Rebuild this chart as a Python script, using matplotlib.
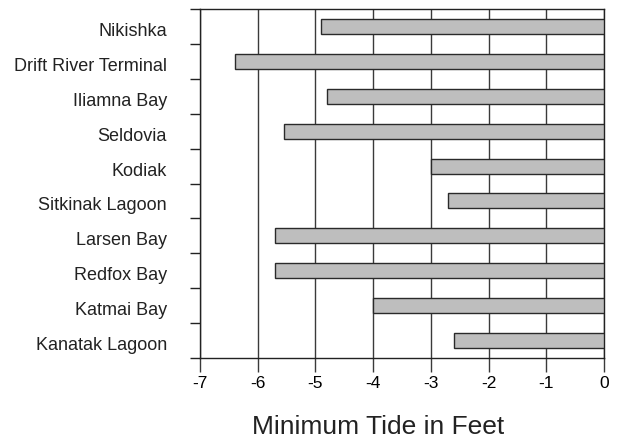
import matplotlib
matplotlib.use("Agg")
import matplotlib.pyplot as plt
import matplotlib.transforms as mtransforms
import numpy as np

plt.rcParams['font.family'] = ['Liberation Sans', 'DejaVu Sans']

# stations from top to bottom
stations = ["Nikishka", "Drift River Terminal", "Iliamna Bay", "Seldovia",
            "Kodiak", "Sitkinak Lagoon", "Larsen Bay", "Redfox Bay",
            "Katmai Bay", "Kanatak Lagoon"]
min_tide = [-4.9, -6.4, -4.8, -5.55, -3.0, -2.7, -5.7, -5.7, -4.0, -2.6]
x_ticks = [-7, -6, -5, -4, -3, -2, -1, 0]


def main():
    fig = plt.figure(figsize=(6.21, 4.38), dpi=100)
    ax = fig.add_axes([0.322, 0.1826, 0.6506, 0.7969])

    pos = np.arange(len(stations))
    ax.barh(pos, min_tide, height=0.43, color="#bebebe",
            edgecolor="#2a2a2a", linewidth=1.0, zorder=3)

    ax.set_xlim(-7, 0)
    ax.set_ylim(len(stations) - 0.5, -0.5)

    # vertical grid lines
    for x in x_ticks:
        ax.axvline(x, color="#3a3a3a", lw=1.0, zorder=1)

    ax.set_xticks(x_ticks)
    ax.set_xticklabels([str(v) for v in x_ticks], fontsize=12.5)
    ax.tick_params(axis="x", direction="out", length=10, width=1,
                   color="#3a3a3a", pad=3)

    # ticks on category boundaries, labels on the centres
    ax.set_yticks(np.arange(-0.5, len(stations), 1.0))
    ax.set_yticklabels([])
    ax.tick_params(axis="y", which="major", direction="out", length=7.2,
                   width=1, color="#222222")
    ax.set_yticks(pos, minor=True)
    ax.set_yticklabels(stations, minor=True, fontsize=13, color="#222222")
    ax.tick_params(axis="y", which="minor", length=0, pad=23.8)
    offset = mtransforms.ScaledTranslation(0, -3 / 100, fig.dpi_scale_trans)
    for lab in ax.get_yticklabels(minor=True):
        lab.set_transform(lab.get_transform() + offset)

    for sp in ax.spines.values():
        sp.set_color("#222222")
        sp.set_linewidth(1.0)

    fig.text(378 / 621, 1 - 427 / 438, "Minimum Tide in Feet", fontsize=19,
             ha="center", va="center", color="#222222")

    fig.savefig("out.png", dpi=100)


if __name__ == '__main__':
    main()
